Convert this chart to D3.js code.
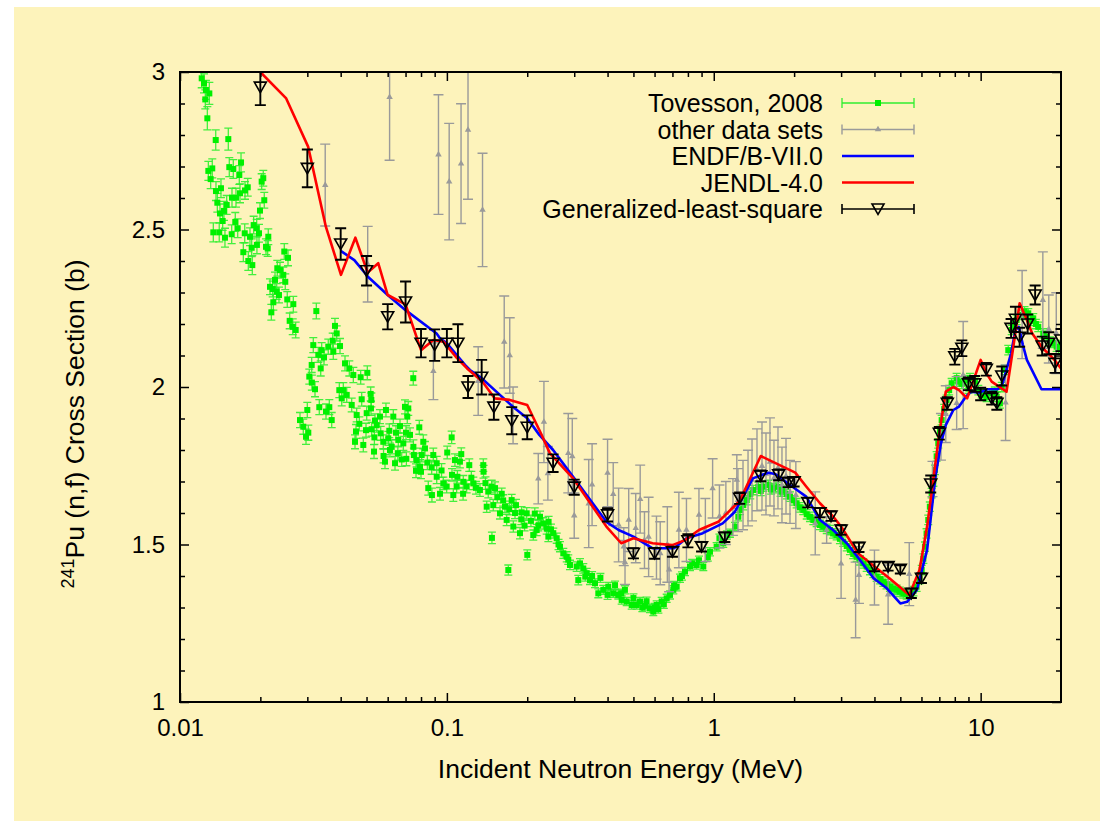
<!DOCTYPE html>
<html><head><meta charset="utf-8">
<script src="https://cdn.jsdelivr.net/npm/d3@7"></script>
<style>
html,body{margin:0;padding:0;background:#fff;}
svg{display:block;}
text{font-family:"Liberation Sans",Arial,Helvetica,sans-serif;fill:#000;}
</style></head><body>
<svg id="chart" width="1100" height="821"></svg>
<script>
// Pu-241 neutron-induced fission cross section, 0.01 - 20 MeV
// [energy (MeV), sigma (b), uncertainty (b)]
const tovesson = [
[0.01206,2.980,0.03],[0.0123,2.964,0.03],[0.01251,2.943,0.03],[0.01288,2.932,0.035],[0.01244,2.913,0.03],
[0.01266,2.853,0.037],[0.01361,2.784,0.032],[0.01517,2.787,0.035],[0.01277,2.686,0.03],[0.01321,2.694,0.03],
[0.01303,2.660,0.03],[0.0153,2.698,0.03],[0.01584,2.692,0.03],[0.01693,2.713,0.03],[0.01668,2.673,0.03],
[0.02023,2.652,0.025],[0.02051,2.663,0.025],[0.01364,2.622,0.03],[0.01424,2.631,0.03],[0.0138,2.585,0.03],
[0.01412,2.551,0.03],[0.01461,2.559,0.03],[0.01496,2.578,0.03],[0.01566,2.601,0.03],[0.01621,2.601,0.03],
[0.01678,2.615,0.03],[0.01752,2.624,0.028],[0.01794,2.634,0.028],[0.02069,2.593,0.025],[0.01994,2.560,0.025],
[0.01445,2.527,0.03],[0.01611,2.524,0.03],[0.01333,2.491,0.03],[0.01403,2.491,0.03],[0.01474,2.474,0.03],
[0.01562,2.485,0.03],[0.01645,2.504,0.03],[0.01748,2.488,0.03],[0.01829,2.477,0.028],[0.01888,2.514,0.028],
[0.01938,2.504,0.028],[0.01977,2.488,0.028],[0.01856,2.442,0.028],[0.01942,2.451,0.028],[0.02142,2.477,0.025],
[0.021,2.445,0.025],[0.02131,2.440,0.025],[0.01727,2.428,0.03],[0.01803,2.400,0.03],[0.01866,2.387,0.03],
[0.02459,2.430,0.025],[0.02539,2.410,0.025],[0.02315,2.377,0.025],[0.0237,2.371,0.025],[0.02438,2.356,0.025],
[0.0248,2.334,0.025],[0.0227,2.340,0.025],[0.02174,2.318,0.025],[0.02225,2.311,0.025],[0.02303,2.303,0.025],
[0.02349,2.292,0.025],[0.02523,2.278,0.025],[0.02237,2.269,0.025],[0.02658,2.263,0.025],[0.02199,2.237,0.025],
[0.02576,2.210,0.025],[0.02645,2.191,0.025],[0.02713,2.181,0.025],[0.03242,2.241,0.025],
[0.03808,2.194,0.024],[0.03865,2.170,0.024],[0.03734,2.147,0.024],[0.03753,2.112,0.024],[0.03977,2.130,0.024],
[0.03594,2.128,0.024],[0.03395,2.117,0.024],[0.03158,2.133,0.024],[0.03298,2.102,0.024],[0.03464,2.094,0.024],
[0.03115,2.070,0.024],[0.03367,2.059,0.024],[0.04152,2.075,0.024],[0.04309,2.059,0.024],[0.04461,2.038,0.024],
[0.03051,2.033,0.024],[0.03120,2.014,0.024],[0.03205,1.993,0.024],[0.03953,1.990,0.024],[0.04092,1.990,0.024],
[0.04214,1.975,0.024],[0.04036,1.964,0.024],[0.04753,2.031,0.022],[0.05033,2.045,0.022],[0.07482,2.028,0.022],
[0.04795,1.961,0.022],[0.05182,1.978,0.022],[0.05210,1.959,0.022],[0.04399,1.943,0.022],[0.02999,1.927,0.024],
[0.03326,1.936,0.024],[0.03626,1.936,0.024],[0.03524,1.922,0.024],[0.03702,1.895,0.024],[0.02816,1.895,0.024],
[0.02897,1.874,0.024],[0.03025,1.855,0.024],[0.02966,1.842,0.024],[0.04592,1.911,0.022],[0.05007,1.917,0.022],
[0.05195,1.932,0.022],[0.05912,1.927,0.022],[0.05614,1.906,0.022],[0.05378,1.893,0.022],[0.06298,1.906,0.022],
[0.06966,1.937,0.022],[0.07167,1.932,0.022],[0.07105,1.906,0.022],[0.04697,1.883,0.022],[0.04565,1.859,0.022],
[0.04977,1.863,0.022],[0.05227,1.866,0.022],[0.05458,1.879,0.022],[0.05649,1.853,0.022],[0.06085,1.861,0.022],
[0.06447,1.855,0.022],[0.06673,1.876,0.022],[0.07027,1.855,0.022],[0.07275,1.848,0.022],[0.07881,1.872,0.022],
[0.04526,1.826,0.022],[0.04862,1.816,0.022],[0.05333,1.795,0.022],[0.05777,1.826,0.022],[0.06032,1.837,0.022],
[0.06211,1.810,0.022],[0.06576,1.832,0.022],[0.06866,1.821,0.022],[0.07490,1.810,0.022],[0.08158,1.826,0.022],
[0.08277,1.805,0.022],[0.1042,1.840,0.02],[0.05790,1.781,0.022],[0.05862,1.763,0.022],[0.06392,1.758,0.022],
[0.06773,1.770,0.022],[0.0752,1.784,0.022],[0.07704,1.768,0.022],[0.08045,1.784,0.022],[0.08893,1.784,0.022],
[0.1003,1.792,0.02],[0.1132,1.787,0.02],[0.1072,1.768,0.02],[0.1119,1.763,0.02],[0.09158,1.758,0.022],
[0.0877,1.745,0.022],[0.0793,1.747,0.022],[0.07661,1.734,0.022],[0.07998,1.731,0.022],[0.1213,1.752,0.02],
[0.1369,1.752,0.02],[0.1372,1.731,0.02],[0.1045,1.721,0.02],[0.0916,1.715,0.022],[0.09694,1.694,0.02],
[0.0998,1.684,0.02],[0.08517,1.679,0.022],[0.0879,1.657,0.022],[0.1088,1.684,0.02],[0.1152,1.699,0.02],
[0.1186,1.684,0.02],[0.1256,1.694,0.02],[0.133,1.673,0.02],[0.1472,1.684,0.02],[0.1515,1.679,0.02],
[0.1429,1.668,0.02],[0.115,1.661,0.02],[0.1057,1.657,0.02],[0.09423,1.661,0.02],
[0.0612,1.800,0.022],[0.0655,1.790,0.022],[0.0705,1.772,0.022],[0.0845,1.760,0.022],[0.0955,1.735,0.022],
[0.1095,1.715,0.02],[0.1235,1.712,0.02],[0.1285,1.680,0.02],[0.1395,1.695,0.02],[0.1545,1.650,0.018],
[0.1625,1.640,0.018],[0.1712,1.612,0.018],[0.1815,1.625,0.018],[0.1905,1.602,0.018],[0.2065,1.575,0.018],
[0.2135,1.598,0.018],[0.2405,1.572,0.017],[0.2455,1.548,0.017],[0.1955,1.560,0.017],[0.0535,1.840,0.022],
[0.1605,1.661,0.018],[0.1749,1.641,0.018],[0.1492,1.625,0.018],[0.1651,1.620,0.018],[0.141,1.620,0.018],
[0.1581,1.599,0.018],[0.1675,1.578,0.018],[0.1774,1.557,0.018],[0.1879,1.536,0.018],[0.1991,1.599,0.018],
[0.2233,1.588,0.018],[0.2297,1.567,0.018],[0.217,1.546,0.018],[0.2366,1.551,0.018],[0.2504,1.536,0.016],
[0.2579,1.520,0.016],[0.1475,1.521,0.018],[0.2001,1.467,0.016],[0.1699,1.419,0.016],[0.2107,1.530,0.016],
[0.2653,1.493,0.016],[0.273,1.472,0.016],[0.2812,1.461,0.016],[0.2892,1.435,0.015],[0.3064,1.430,0.015],
[0.3153,1.440,0.015],[0.3244,1.424,0.015],[0.3341,1.409,0.015],[0.3107,1.387,0.015],[0.3437,1.387,0.014],
[0.3589,1.377,0.014],[0.3693,1.345,0.014],[0.3855,1.356,0.014],[0.4025,1.366,0.014],[0.4203,1.345,0.013],
[0.4388,1.340,0.013],[0.4518,1.324,0.013],[0.4718,1.319,0.013],[0.4926,1.308,0.013],[0.5143,1.308,0.013],
[0.5292,1.319,0.013],[0.5525,1.305,0.013],[0.5768,1.297,0.013],[0.5934,1.287,0.013],[0.6111,1.308,0.013],
[0.638,1.319,0.013],[0.6661,1.329,0.013],[0.6855,1.340,0.013],[0.7053,1.356,0.013],[0.7261,1.366,0.013],
[0.7471,1.393,0.013],[0.7801,1.414,0.013],[0.8144,1.430,0.013],[0.8628,1.435,0.013],[0.9135,1.430,0.013],
[0.9678,1.477,0.013],[1.025,1.493,0.013],[1.085,1.504,0.013],[1.15,1.536,0.013],[1.201,1.557,0.013],
[1.236,1.588,0.013],
[0.262,1.500,0.016],[0.285,1.452,0.015],[0.33,1.398,0.014],[0.376,1.394,0.014],[0.4266,1.371,0.013],
[0.4646,1.356,0.013],[0.5,1.330,0.013],[0.54,1.300,0.013],[0.62,1.295,0.013],[0.65,1.310,0.013],
[0.71,1.370,0.013],[0.76,1.400,0.013],[0.83,1.440,0.013],[0.95,1.460,0.013],[1.05,1.520,0.013],
[1.12,1.530,0.013],[0.88,1.450,0.013],[0.22,1.560,0.017],[0.24,1.525,0.016],[0.19,1.580,0.017],
[0.18,1.600,0.018],[0.35,1.400,0.014],[0.4,1.340,0.014],[0.45,1.345,0.013],[0.56,1.320,0.013],[0.6,1.300,0.013],
[1.254,1.610,0.015],[1.29,1.625,0.015],[1.329,1.641,0.015],[1.37,1.660,0.015],[1.406,1.673,0.015],
[1.469,1.683,0.015],[1.5,1.670,0.015],[1.533,1.684,0.015],[1.601,1.689,0.015],[1.64,1.675,0.015],
[1.671,1.679,0.015],[1.745,1.683,0.015],[1.78,1.668,0.015],[1.822,1.673,0.015],[1.88,1.660,0.015],
[1.93,1.652,0.015],[1.99,1.640,0.015],[2.044,1.631,0.015],[2.1,1.618,0.015],[2.164,1.610,0.015],
[2.23,1.596,0.015],[2.293,1.588,0.015],[2.36,1.578,0.015],[2.429,1.572,0.015],[2.5,1.562,0.015],
[2.572,1.557,0.015],[2.65,1.550,0.015],[2.725,1.546,0.015],[2.8,1.535,0.015],[2.887,1.530,0.015],
[2.97,1.518,0.015],[3.056,1.509,0.015],[3.15,1.495,0.015],[3.238,1.483,0.015],[3.33,1.470,0.015],
[3.431,1.461,0.015],[3.53,1.450,0.015],[3.632,1.440,0.015],[3.74,1.430,0.015],[3.848,1.419,0.015],
[3.96,1.410,0.015],[4.077,1.398,0.015],[4.2,1.390,0.015],[4.315,1.382,0.015],[4.44,1.374,0.015],
[4.573,1.366,0.015],[4.7,1.360,0.015],[4.845,1.356,0.015],[4.98,1.350,0.015],[5.129,1.345,0.015],
[5.28,1.342,0.015],[5.434,1.345,0.015],[5.6,1.352,0.015],[5.757,1.366,0.015],[5.9,1.390,0.015],
[6.012,1.419,0.015],[6.1,1.455,0.015],[6.184,1.493,0.015],[6.27,1.535,0.015],[6.363,1.578,0.015],
[6.45,1.620,0.015],[6.552,1.663,0.015],[6.65,1.700,0.015],[6.742,1.737,0.015],[6.84,1.780,0.015],
[6.936,1.821,0.015],[7.04,1.860,0.015],[7.143,1.895,0.015],[7.3,1.930,0.015],[7.457,1.959,0.015],
[7.62,1.990,0.015],[7.786,2.012,0.015],[8.128,2.028,0.015],
[8.246,2.017,0.015],[8.5,2.010,0.015],[8.735,2.022,0.015],[9.0,1.995,0.015],[9.119,2.028,0.015],
[9.521,2.017,0.015],[9.8,1.990,0.015],[10.09,1.980,0.015],[10.3,1.975,0.015],[10.53,1.969,0.015],
[11.0,1.980,0.015],[11.3,1.985,0.015],[11.48,1.969,0.015],[11.81,1.948,0.015],[12.0,2.000,0.015],
[12.33,2.054,0.015],[12.69,2.117,0.015],[13.07,2.181,0.015],[13.3,2.200,0.015],[13.64,2.213,0.015],
[14.24,2.229,0.015],[14.6,2.240,0.015],[15.08,2.234,0.015],[15.4,2.210,0.015],[15.74,2.218,0.015],
[16.1,2.200,0.015],[16.44,2.191,0.015],[17.16,2.170,0.015],[17.6,2.160,0.015],[18.18,2.144,0.015],
[18.7,2.140,0.015],[19.26,2.128,0.015],[19.6,2.120,0.015],[19.99,2.133,0.015]
];

const otherSets = [
[0.035,2.641,0.13],[0.0505,2.39,0.12],[0.061,2.92,0.2],[0.089,2.05,0.09],[0.093,2.738,0.19],
[0.102,2.652,0.185],[0.113,2.709,0.19],[0.12,2.816,0.22],[0.131,2.019,0.109],[0.136,2.562,0.18],
[0.164,2.143,0.146],[0.172,2.1,0.12],[0.177,1.91,0.09],[0.22,1.709,0.08],[0.231,1.889,0.129],
[0.239,1.726,0.085],[0.285,1.79,0.126],[0.295,1.78,0.12],[0.3,1.592,0.072],[0.34,1.63,0.14],
[0.35,1.69,0.13],[0.4,1.727,0.107],[0.42,1.66,0.1],[0.44,1.562,0.117],[0.46,1.493,0.06],
[0.465,1.443,0.07],[0.48,1.578,0.1],[0.51,1.552,0.11],[0.53,1.644,0.108],[0.55,1.514,0.09],
[0.57,1.524,0.126],[0.61,1.49,0.1],[0.63,1.472,0.1],[0.67,1.5,0.12],[0.68,1.42,0.07],
[0.74,1.546,0.12],[0.79,1.546,0.1],[0.88,1.594,0.084],[0.93,1.546,0.1],[0.99,1.678,0.094],
[1.05,1.589,0.1],[1.11,1.6,0.1],[1.18,1.619,0.09],[1.22,1.705,0.08],[1.232,1.641,0.1],
[1.287,1.657,0.11],[1.344,1.679,0.12],[1.391,1.705,0.13],[1.452,1.737,0.13],[1.516,1.749,0.14],
[1.569,1.724,0.13],[1.624,1.762,0.14],[1.681,1.711,0.12],[1.74,1.743,0.13],[1.801,1.689,0.12],
[1.865,1.717,0.12],[1.93,1.667,0.1],[2.03,1.657,0.106],[2.4,1.567,0.1],[2.648,1.546,0.042],
[3.0,1.439,0.11],[3.4,1.324,0.12],[3.5,1.403,0.09],[4.0,1.395,0.087],[4.5,1.341,0.094],
[5.4,1.406,0.1],[6.6,1.708,0.056],[7.1,1.842,0.074],[7.4,1.914,0.09],[8.13,1.949,0.084],
[8.6,2.038,0.17],[12.4,1.95,0.12],[14.3,2.23,0.14],[17.1,2.276,0.153],[18.0,2.184,0.108],
[19.2,2.171,0.128]
];

// evaluated cross sections [energy (MeV), sigma (b)]
const endfB7 = [
[0.04,2.432],[0.045,2.403],[0.0506,2.350],[0.06,2.292],[0.07,2.244],[0.0915,2.170],[0.0942,2.155],
[0.1,2.139],[0.1169,2.070],[0.122,2.054],[0.135,2.028],[0.158,1.975],[0.18,1.932],[0.2,1.901],
[0.222,1.848],[0.25,1.800],[0.3,1.710],[0.396,1.572],[0.44,1.546],[0.5,1.525],[0.59,1.488],
[0.71,1.488],[0.79,1.520],[0.91,1.536],[1.08,1.567],[1.2,1.604],[1.4,1.710],[1.6,1.728],
[1.7,1.724],[1.88,1.696],[2.05,1.673],[2.22,1.652],[2.5,1.578],[2.8,1.546],[3.15,1.504],
[3.53,1.451],[3.97,1.393],[4.45,1.361],[5.0,1.313],[5.3,1.318],[5.77,1.356],[6.3,1.483],
[6.77,1.715],[7.1,1.821],[7.4,1.879],[7.9,1.927],[8.3,1.938],[8.8,1.969],[9.2,1.985],
[9.9,1.982],[10.6,1.993],[11.6,1.993],[12.1,2.012],[13.0,2.107],[13.5,2.181],[13.9,2.191],
[14.4,2.133],[14.9,2.086],[16.9,1.993],[20,1.993]
];

const jendl4 = [
[0.02,3.0],[0.025,2.916],[0.0302,2.763],[0.0352,2.509],[0.0401,2.356],[0.0454,2.474],[0.0505,2.363],
[0.0553,2.393],[0.06,2.292],[0.07,2.262],[0.08,2.117],[0.089,2.149],[0.097,2.144],[0.108,2.096],
[0.119,2.059],[0.136,2.017],[0.151,1.964],[0.172,1.959],[0.2,1.943],[0.225,1.853],[0.243,1.790],
[0.297,1.710],[0.396,1.557],[0.45,1.504],[0.5,1.520],[0.59,1.504],[0.7,1.498],[0.78,1.514],
[0.88,1.546],[1.04,1.572],[1.25,1.638],[1.5,1.781],[2.02,1.728],[2.22,1.684],[2.5,1.631],
[2.8,1.589],[3.0,1.557],[3.47,1.472],[4.0,1.430],[4.55,1.393],[5.4,1.340],[5.9,1.419],
[6.3,1.557],[7.0,1.853],[7.4,1.985],[7.9,2.0],[8.3,1.990],[8.9,1.964],[10,2.086],[10.5,2.044],
[11,2.017],[12.5,1.985],[13.2,2.117],[14,2.266],[14.9,2.213],[15.6,2.170],[17.1,2.123],
[18.7,2.091],[20,2.059]
];

const glsFit = [
[0.02,2.952,0.057],[0.03,2.694,0.06],[0.04,2.454,0.05],[0.05,2.369,0.047],[0.06,2.223,0.04],
[0.07,2.270,0.065],[0.08,2.139,0.045],[0.09,2.133,0.05],[0.1,2.139,0.045],[0.11,2.139,0.06],
[0.12,2.0,0.035],[0.135,2.031,0.055],[0.15,1.936,0.04],[0.175,1.893,0.043],[0.2,1.872,0.038],
[0.25,1.758,0.028],[0.3,1.682,0.024],[0.4,1.594,0.021],[0.5,1.472,0.016],[0.6,1.472,0.017],
[0.7,1.477,0.016],[0.8,1.512,0.021],[0.9,1.493,0.015],[1.1,1.523,0.015],[1.25,1.647,0.018],
[1.5,1.718,0.017],[1.75,1.721,0.017],[1.9,1.697,0.015],[2.0,1.699,0.015],[2.25,1.633,0.015],
[2.5,1.601,0.015],[2.75,1.590,0.015],[3.0,1.546,0.015],[3.5,1.491,0.015],[4.0,1.430,0.015],
[4.5,1.430,0.013],[5.0,1.421,0.013],[5.5,1.345,0.015],[6.0,1.393,0.015],[6.5,1.692,0.027],
[7.0,1.853,0.02],[7.5,1.948,0.02],[8.0,2.096,0.025],[8.5,2.123,0.025],[9.0,2.010,0.02],
[9.5,2.010,0.025],[10,1.978,0.02],[10.5,2.056,0.02],[11,1.964,0.02],[11.5,1.948,0.02],
[12,2.035,0.03],[13,2.186,0.03],[13.5,2.215,0.04],[14,2.158,0.03],[15,2.2,0.03],
[16,2.292,0.03],[17,2.130,0.03],[18,2.139,0.035],[19,2.075,0.03],[20,2.149,0.035]
];

const xTickValues = [0.01, 0.1, 1, 10];
const xTickLabels = ["0.01", "0.1", "1", "10"];
const xMinorValues = [0.02,0.03,0.04,0.05,0.06,0.07,0.08,0.09,0.2,0.3,0.4,0.5,0.6,0.7,0.8,0.9,2,3,4,5,6,7,8,9];
const yTickValues = [1, 1.5, 2, 2.5, 3];
const yTickLabels = ["1", "1.5", "2", "2.5", "3"];
const yMinorValues = [1.1,1.2,1.3,1.4,1.6,1.7,1.8,1.9,2.1,2.2,2.3,2.4,2.6,2.7,2.8,2.9];
const legendLabels = ["Tovesson, 2008", "other data sets", "ENDF/B-VII.0", "JENDL-4.0", "Generalized-least-square"];

const W = 1100, H = 821;
const L = 180, R = 1061, T = 72, B = 702;
const GREEN = "#00f000", GREEN_BAR = "#30ee30", GREY = "#9a9a9a";

const svg = d3.select("#chart");
svg.append("rect").attr("x", 14).attr("y", 7).attr("width", W - 14).attr("height", H - 7).attr("fill", "#fdf3bb");

const x = d3.scaleLog().domain([0.01, 20]).range([L, R]);
const y = d3.scaleLinear().domain([1, 3]).range([B, T]);

svg.append("clipPath").attr("id", "plotClip")
  .append("rect").attr("x", L).attr("y", T).attr("width", R - L).attr("height", B - T);

const plot = svg.append("g").attr("clip-path", "url(#plotClip)");

function errPath(d, cap) {
  const px = x(d[0]), y1 = y(d[1] - d[2]), y2 = y(d[1] + d[2]);
  return `M${px},${y1}V${y2}M${px - cap},${y1}H${px + cap}M${px - cap},${y2}H${px + cap}`;
}

// Tovesson 2008
const gT = plot.append("g");
gT.selectAll("path").data(tovesson).join("path")
  .attr("d", d => errPath(d, 4)).attr("fill", "none")
  .attr("stroke", GREEN_BAR).attr("stroke-width", 1.3).attr("stroke-opacity", 0.9);
gT.selectAll("rect").data(tovesson).join("rect")
  .attr("x", d => x(d[0]) - 3).attr("y", d => y(d[1]) - 3)
  .attr("width", 6).attr("height", 6).attr("fill", GREEN);

// other measurements
const gO = plot.append("g");
gO.selectAll("path.eb").data(otherSets).join("path").attr("class", "eb")
  .attr("d", d => errPath(d, 5)).attr("fill", "none")
  .attr("stroke", GREY).attr("stroke-width", 1.4);
const triUp = d3.symbol().type(d3.symbolTriangle).size(18);
gO.selectAll("path.mk").data(otherSets).join("path").attr("class", "mk")
  .attr("d", triUp).attr("transform", d => `translate(${x(d[0])},${y(d[1])})`)
  .attr("fill", GREY);

// evaluations
const line = d3.line().x(d => x(d[0])).y(d => y(d[1]));
plot.append("path").datum(endfB7).attr("d", line).attr("fill", "none")
  .attr("stroke", "#0000ff").attr("stroke-width", 2.6).attr("stroke-linejoin", "round");
plot.append("path").datum(jendl4).attr("d", line).attr("fill", "none")
  .attr("stroke", "#ff0000").attr("stroke-width", 2.6).attr("stroke-linejoin", "round");

// generalized least-squares fit
function triDown(px, py) {
  return `M${px - 6},${py - 5}H${px + 6}L${px},${py + 5.5}Z`;
}
const gG = plot.append("g");
gG.selectAll("path.eb").data(glsFit).join("path").attr("class", "eb")
  .attr("d", d => errPath(d, 5.5)).attr("fill", "none")
  .attr("stroke", "#000").attr("stroke-width", 1.9);
gG.selectAll("path.mk").data(glsFit).join("path").attr("class", "mk")
  .attr("d", d => triDown(x(d[0]), y(d[1]))).attr("fill", "none")
  .attr("stroke", "#000").attr("stroke-width", 1.6);

// axes
const axes = svg.append("g");
function tickStyle(g) {
  g.select(".domain").remove();
  g.selectAll(".tick line").attr("stroke", "#000").attr("stroke-width", 1.5);
  g.selectAll(".tick text").attr("font-size", 24).attr("font-family", '"Liberation Sans", Arial, sans-serif').attr("fill", "#000");
}
axes.append("g").attr("transform", `translate(0,${B})`)
  .call(d3.axisBottom(x).tickValues(xTickValues).tickFormat((d, i) => xTickLabels[i]).tickSize(-9).tickPadding(17))
  .call(tickStyle);
axes.append("g").attr("transform", `translate(0,${B})`)
  .call(d3.axisBottom(x).tickValues(xMinorValues).tickFormat("").tickSize(-5)).call(tickStyle);
axes.append("g").attr("transform", `translate(0,${T})`)
  .call(d3.axisTop(x).tickValues(xTickValues).tickFormat("").tickSize(-9)).call(tickStyle);
axes.append("g").attr("transform", `translate(0,${T})`)
  .call(d3.axisTop(x).tickValues(xMinorValues).tickFormat("").tickSize(-5)).call(tickStyle);
axes.append("g").attr("transform", `translate(${L},0)`)
  .call(d3.axisLeft(y).tickValues(yTickValues).tickFormat((d, i) => yTickLabels[i]).tickSize(-9).tickPadding(15))
  .call(tickStyle);
axes.append("g").attr("transform", `translate(${L},0)`)
  .call(d3.axisLeft(y).tickValues(yMinorValues).tickFormat("").tickSize(-5)).call(tickStyle);
axes.append("g").attr("transform", `translate(${R},0)`)
  .call(d3.axisRight(y).tickValues(yTickValues).tickFormat("").tickSize(-9)).call(tickStyle);
axes.append("g").attr("transform", `translate(${R},0)`)
  .call(d3.axisRight(y).tickValues(yMinorValues).tickFormat("").tickSize(-5)).call(tickStyle);

axes.append("rect").attr("x", L).attr("y", T).attr("width", R - L).attr("height", B - T)
  .attr("fill", "none").attr("stroke", "#000").attr("stroke-width", 2);

// axis titles
svg.append("text").attr("x", (L + R) / 2).attr("y", 778).attr("text-anchor", "middle")
  .attr("font-size", 26.5).text("Incident Neutron Energy (MeV)");
const yt = svg.append("text").attr("transform", "translate(84,424) rotate(-90)")
  .attr("text-anchor", "middle").attr("font-size", 26.5);
yt.append("tspan").attr("font-size", 18).attr("dy", -10).text("241");
yt.append("tspan").attr("dy", 10).text("Pu (n,f) Cross Section (b)");

// legend
const legY = [103, 129.5, 156, 182.5, 209];
const lx0 = 842, lx1 = 914, lxm = 878;
const leg = svg.append("g");
leg.selectAll("text").data(legendLabels).join("text")
  .attr("x", 823).attr("y", (d, i) => legY[i]).attr("dy", "0.36em")
  .attr("text-anchor", "end").attr("font-size", 25).text(d => d);
function legendBar(i, color, sw) {
  const yy = legY[i];
  leg.append("path").attr("d", `M${lx0},${yy}H${lx1}M${lx0},${yy - 5}V${yy + 5}M${lx1},${yy - 5}V${yy + 5}`)
    .attr("stroke", color).attr("stroke-width", sw).attr("fill", "none");
}
legendBar(0, GREEN_BAR, 1.3);
leg.append("rect").attr("x", lxm - 3).attr("y", legY[0] - 3).attr("width", 6).attr("height", 6).attr("fill", GREEN);
legendBar(1, GREY, 1.4);
leg.append("path").attr("d", triUp).attr("transform", `translate(${lxm},${legY[1]})`).attr("fill", GREY);
leg.append("path").attr("d", `M${lx0},${legY[2]}H${lx1}`).attr("stroke", "#0000ff").attr("stroke-width", 2.6);
leg.append("path").attr("d", `M${lx0},${legY[3]}H${lx1}`).attr("stroke", "#ff0000").attr("stroke-width", 2.6);
legendBar(4, "#000", 1.6);
leg.append("path").attr("d", triDown(lxm, legY[4])).attr("fill", "none").attr("stroke", "#000").attr("stroke-width", 1.6);
</script></body></html>
